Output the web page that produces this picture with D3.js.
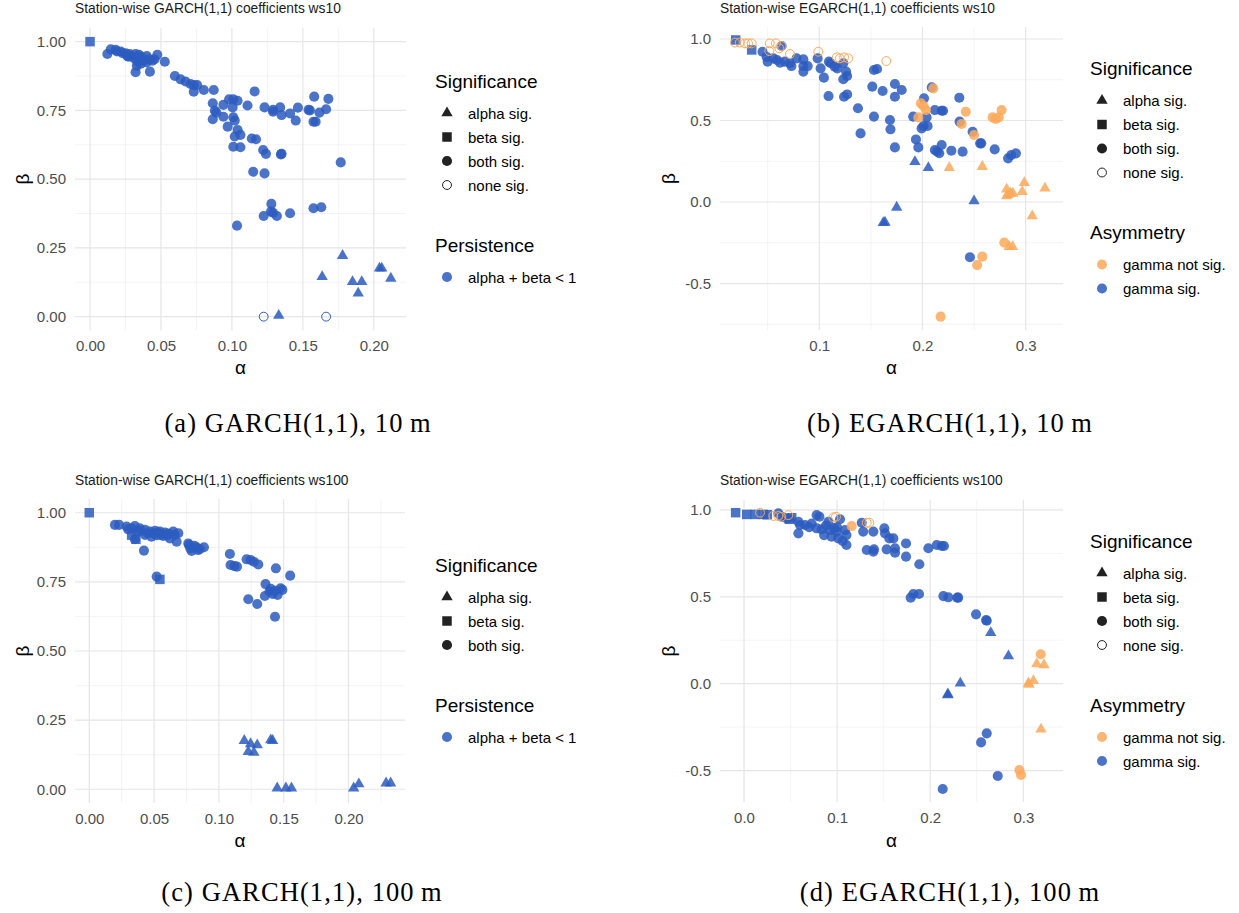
<!DOCTYPE html>
<html><head><meta charset="utf-8">
<script src="https://cdn.jsdelivr.net/npm/d3@7"></script>
<style>body{margin:0;background:#fff;} svg{display:block;}</style>
</head><body>
<svg id="chart" width="1239" height="913"></svg>
<script>
// ---------- DATA ----------
// significance codes: A = alpha sig., B = beta sig., C = both sig., N = none sig.
// gamma codes (EGARCH): S = gamma sig., G = gamma not sig.
const sigLabels = {A:"alpha sig.", B:"beta sig.", C:"both sig.", N:"none sig."};
const sigOrderGarch10 = ["A","B","C","N"];
const sigOrderGarch100 = ["A","B","C"];
const sigOrderEgarch = ["A","B","C","N"];
const persistenceLabels = ["alpha + beta < 1"];
const asymmetryLabels = ["gamma not sig.","gamma sig."];

const ticksGarchX = [0,0.05,0.10,0.15,0.20];
const ticksGarchY = [0,0.25,0.5,0.75,1];
const ticksEgarchX10 = [0.1,0.2,0.3];
const ticksEgarchX100 = [0.0,0.1,0.2,0.3];
const ticksEgarchY = [-0.5,0,0.5,1];

// Panel (a): GARCH(1,1) ws10  [alpha, beta, sig]
const garch10 = [
 [0.000,1.000,"B"],
 [0.0122,0.955,"C"],[0.0146,0.972,"C"],[0.018,0.970,"C"],[0.019,0.964,"C"],[0.0216,0.964,"C"],[0.023,0.958,"C"],
 [0.0251,0.958,"C"],[0.0263,0.948,"C"],[0.027,0.945,"C"],[0.0286,0.948,"C"],[0.028,0.955,"C"],[0.031,0.940,"C"],
 [0.0321,0.955,"C"],[0.0333,0.927,"C"],[0.0345,0.952,"C"],[0.0357,0.940,"C"],[0.0357,0.920,"C"],[0.036,0.945,"C"],
 [0.038,0.931,"C"],[0.0399,0.924,"C"],[0.040,0.948,"C"],[0.0415,0.936,"C"],[0.0439,0.931,"C"],[0.0455,0.936,"C"],
 [0.0474,0.952,"C"],[0.0321,0.889,"C"],[0.0422,0.891,"C"],[0.0527,0.927,"C"],[0.033,0.912,"C"],
 [0.0598,0.875,"C"],[0.0638,0.863,"C"],[0.0673,0.855,"C"],[0.0708,0.846,"C"],[0.0732,0.842,"C"],[0.0755,0.842,"C"],
 [0.0731,0.818,"C"],[0.0802,0.824,"C"],[0.0872,0.824,"C"],
 [0.0865,0.776,"C"],[0.088,0.749,"C"],[0.0865,0.718,"C"],[0.089,0.742,"C"],[0.094,0.770,"C"],[0.094,0.727,"C"],
 [0.097,0.691,"C"],[0.098,0.790,"C"],[0.101,0.790,"C"],[0.104,0.785,"C"],[0.1005,0.761,"C"],[0.101,0.725,"C"],
 [0.102,0.713,"C"],[0.104,0.679,"C"],[0.102,0.655,"C"],[0.106,0.661,"C"],[0.101,0.618,"C"],[0.106,0.616,"C"],
 [0.111,0.768,"C"],[0.116,0.819,"C"],[0.114,0.648,"C"],[0.117,0.645,"C"],[0.122,0.606,"C"],[0.124,0.592,"C"],
 [0.115,0.527,"C"],[0.123,0.521,"C"],[0.123,0.761,"C"],[0.129,0.752,"C"],[0.134,0.761,"C"],[0.129,0.745,"C"],
 [0.135,0.733,"C"],[0.135,0.592,"C"],[0.1345,0.590,"C"],[0.141,0.739,"C"],[0.145,0.713,"C"],[0.1465,0.760,"C"],
 [0.154,0.752,"C"],[0.155,0.750,"C"],[0.158,0.800,"C"],[0.1575,0.709,"C"],[0.159,0.709,"C"],[0.1617,0.742,"C"],
 [0.1664,0.754,"C"],[0.168,0.792,"C"],[0.1767,0.561,"C"],
 [0.1278,0.410,"C"],[0.1275,0.382,"C"],[0.129,0.378,"C"],[0.1224,0.366,"C"],[0.1317,0.366,"C"],[0.141,0.376,"C"],
 [0.1575,0.394,"C"],[0.163,0.398,"C"],[0.1036,0.331,"C"],
 [0.178,0.222,"A"],[0.1636,0.145,"A"],[0.185,0.127,"A"],[0.1915,0.127,"A"],[0.189,0.085,"A"],[0.204,0.176,"A"],
 [0.2056,0.176,"A"],[0.212,0.139,"A"],[0.133,0.004,"A"],
 [0.1224,0.000,"N"],[0.1664,0.000,"N"]
];

// Panel (c): GARCH(1,1) ws100  [alpha, beta, sig]
const garch100 = [
 [0.000,1.000,"B"],
 [0.0198,0.956,"C"],[0.023,0.956,"C"],[0.0288,0.950,"C"],[0.030,0.940,"C"],[0.0327,0.944,"C"],[0.0352,0.952,"C"],
 [0.037,0.930,"C"],[0.039,0.944,"C"],[0.040,0.935,"C"],[0.043,0.938,"C"],[0.043,0.920,"C"],[0.045,0.925,"C"],
 [0.0468,0.932,"C"],[0.048,0.913,"C"],[0.050,0.925,"C"],[0.0507,0.935,"C"],[0.052,0.919,"C"],[0.053,0.928,"C"],
 [0.0545,0.932,"C"],[0.055,0.920,"C"],[0.057,0.916,"C"],[0.0584,0.928,"C"],[0.060,0.918,"C"],[0.061,0.925,"C"],
 [0.0622,0.907,"C"],[0.0648,0.932,"C"],[0.066,0.920,"C"],[0.0674,0.895,"C"],[0.0687,0.926,"C"],[0.0352,0.904,"C"],
 [0.0422,0.863,"C"],[0.052,0.769,"C"],
 [0.0764,0.889,"C"],[0.077,0.883,"C"],[0.078,0.871,"C"],[0.079,0.862,"C"],[0.081,0.880,"C"],[0.0828,0.875,"C"],
 [0.084,0.865,"C"],[0.0854,0.869,"C"],[0.0885,0.875,"C"],
 [0.1085,0.851,"C"],[0.109,0.811,"C"],[0.112,0.807,"C"],[0.114,0.805,"C"],[0.1214,0.8315,"C"],[0.1245,0.829,"C"],
 [0.127,0.823,"C"],[0.1304,0.813,"C"],
 [0.1227,0.687,"C"],[0.1296,0.670,"C"],[0.136,0.742,"C"],[0.1355,0.699,"C"],[0.139,0.715,"C"],[0.140,0.725,"C"],
 [0.1415,0.706,"C"],[0.1435,0.718,"C"],[0.144,0.799,"C"],[0.1433,0.624,"C"],[0.1453,0.703,"C"],[0.1476,0.727,"C"],
 [0.149,0.721,"C"],[0.155,0.7725,"C"],
 [0.0327,0.919,"B"],[0.036,0.904,"B"],[0.0545,0.759,"B"],
 [0.1196,0.176,"A"],[0.1245,0.164,"A"],[0.1227,0.136,"A"],[0.127,0.133,"A"],[0.1296,0.160,"A"],[0.140,0.178,"A"],
 [0.1415,0.176,"A"],[0.145,0.004,"A"],[0.1517,0.004,"A"],[0.156,0.004,"A"],[0.204,0.004,"A"],[0.208,0.019,"A"],
 [0.229,0.022,"A"],[0.2325,0.022,"A"]
];

// Panel (b): EGARCH(1,1) ws10  [alpha, beta, sig, gamma]
const egarch10 = [
 [0.045,0.922,"C","S"],[0.049,0.890,"C","S"],[0.050,0.861,"C","S"],[0.0555,0.881,"C","S"],[0.059,0.871,"C","S"],
 [0.0635,0.957,"C","S"],[0.062,0.855,"C","S"],[0.0667,0.861,"C","S"],[0.0716,0.851,"C","S"],[0.073,0.834,"C","S"],
 [0.078,0.881,"C","S"],[0.0846,0.875,"C","S"],[0.0846,0.834,"C","S"],[0.0846,0.800,"C","S"],[0.0888,0.834,"C","S"],
 [0.0984,0.881,"C","S"],[0.1013,0.820,"C","S"],[0.1045,0.763,"C","S"],[0.1094,0.861,"C","S"],[0.111,0.851,"C","S"],
 [0.115,0.830,"C","S"],[0.1175,0.820,"C","S"],[0.1233,0.851,"C","S"],[0.126,0.800,"C","S"],[0.127,0.773,"C","S"],
 [0.1233,0.753,"C","S"],[0.109,0.650,"C","S"],[0.124,0.646,"C","S"],[0.127,0.660,"C","S"],[0.1375,0.575,"C","S"],
 [0.140,0.421,"C","S"],[0.1514,0.708,"C","S"],[0.153,0.810,"C","S"],[0.156,0.816,"C","S"],[0.1614,0.681,"C","S"],
 [0.153,0.524,"C","S"],[0.1685,0.503,"C","S"],[0.169,0.446,"C","S"],[0.1733,0.335,"C","S"],[0.1733,0.724,"C","S"],
 [0.1733,0.646,"C","S"],[0.1799,0.687,"C","S"],[0.191,0.524,"C","S"],[0.1937,0.384,"C","S"],[0.196,0.335,"C","S"],
 [0.1992,0.452,"C","S"],[0.201,0.466,"C","S"],[0.204,0.519,"C","S"],[0.205,0.466,"C","S"],[0.2015,0.636,"C","S"],
 [0.209,0.703,"C","S"],[0.212,0.319,"C","S"],[0.2163,0.299,"C","S"],[0.2186,0.350,"C","S"],[0.214,0.310,"C","S"],
 [0.212,0.564,"C","S"],[0.2186,0.560,"C","S"],[0.220,0.560,"C","S"],[0.228,0.315,"C","S"],[0.2357,0.640,"C","S"],
 [0.236,0.493,"C","S"],[0.2389,0.309,"C","S"],[0.2486,0.431,"C","S"],[0.2559,0.360,"C","S"],[0.257,0.360,"C","S"],
 [0.270,0.323,"C","S"],[0.283,0.268,"C","S"],[0.286,0.288,"C","S"],[0.2906,0.2986,"C","S"],[0.246,-0.339,"C","S"],
 [0.1985,0.605,"C","G"],[0.201,0.589,"C","G"],[0.2034,0.564,"C","G"],[0.196,0.519,"C","G"],[0.2105,0.697,"C","G"],
 [0.242,0.554,"C","G"],[0.238,0.479,"C","G"],[0.250,0.411,"C","G"],[0.268,0.519,"C","G"],[0.271,0.509,"C","G"],
 [0.274,0.519,"C","G"],[0.2767,0.564,"C","G"],[0.2793,-0.249,"C","G"],[0.253,-0.387,"C","G"],[0.258,-0.335,"C","G"],
 [0.2176,-0.703,"C","G"],
 [0.019,0.994,"B","S"],[0.0345,0.933,"B","S"],
 [0.0183,0.978,"N","G"],[0.023,0.978,"N","G"],[0.028,0.973,"N","G"],[0.031,0.973,"N","G"],[0.0345,0.973,"N","G"],
 [0.052,0.973,"N","G"],[0.058,0.973,"N","G"],[0.0613,0.943,"N","G"],[0.0635,0.957,"N","G"],[0.0516,0.926,"N","G"],
 [0.0716,0.908,"N","G"],[0.099,0.922,"N","G"],[0.117,0.8875,"N","G"],[0.120,0.881,"N","G"],[0.124,0.8875,"N","G"],
 [0.128,0.881,"N","G"],[0.165,0.865,"N","G"],
 [0.1927,0.247,"A","S"],[0.2057,0.210,"A","S"],[0.175,-0.033,"A","S"],[0.1637,-0.125,"A","S"],[0.162,-0.127,"A","S"],
 [0.250,0.006,"A","S"],
 [0.226,0.210,"A","G"],[0.258,0.217,"A","G"],[0.2816,0.078,"A","G"],[0.2854,0.053,"A","G"],[0.2816,0.037,"A","G"],
 [0.2877,0.053,"A","G"],[0.2987,0.118,"A","G"],[0.2967,0.063,"A","G"],[0.3187,0.084,"A","G"],[0.3064,-0.086,"A","G"],
 [0.2841,-0.274,"A","G"],[0.2873,-0.274,"A","G"],[0.283,0.045,"A","G"]
];

// Panel (d): EGARCH(1,1) ws100  [alpha, beta, sig, gamma]
const egarch100 = [
 [0.0369,0.980,"C","S"],[0.0405,0.961,"C","S"],[0.0458,0.951,"C","S"],[0.0584,0.932,"C","S"],[0.0602,0.913,"C","S"],
 [0.0584,0.865,"C","S"],[0.0655,0.913,"C","S"],[0.070,0.900,"C","S"],[0.0727,0.922,"C","S"],[0.078,0.970,"C","S"],
 [0.081,0.961,"C","S"],[0.078,0.894,"C","S"],[0.0834,0.888,"C","S"],[0.086,0.855,"C","S"],[0.088,0.910,"C","S"],
 [0.0906,0.932,"C","S"],[0.0924,0.884,"C","S"],[0.094,0.846,"C","S"],[0.097,0.895,"C","S"],[0.0995,0.875,"C","S"],
 [0.100,0.900,"C","S"],[0.1013,0.836,"C","S"],[0.1031,0.946,"C","S"],[0.106,0.821,"C","S"],[0.1085,0.884,"C","S"],
 [0.110,0.855,"C","S"],[0.110,0.798,"C","S"],[0.1264,0.926,"C","S"],[0.128,0.875,"C","S"],[0.1318,0.769,"C","S"],
 [0.1389,0.875,"C","S"],[0.1396,0.773,"C","S"],[0.1389,0.760,"C","S"],[0.1507,0.894,"C","S"],[0.1514,0.865,"C","S"],
 [0.1532,0.773,"C","S"],[0.1561,0.836,"C","S"],[0.1604,0.836,"C","S"],[0.1622,0.779,"C","S"],[0.1622,0.754,"C","S"],
 [0.174,0.807,"C","S"],[0.174,0.731,"C","S"],[0.1883,0.687,"C","S"],[0.198,0.779,"C","S"],[0.207,0.798,"C","S"],
 [0.2123,0.792,"C","S"],[0.2148,0.792,"C","S"],[0.179,0.495,"C","S"],[0.1819,0.516,"C","S"],[0.188,0.516,"C","S"],
 [0.2141,0.504,"C","S"],[0.2195,0.497,"C","S"],[0.2291,0.495,"C","S"],[0.2300,0.495,"C","S"],[0.2492,0.399,"C","S"],
 [0.2607,0.362,"C","S"],[0.260,0.366,"C","S"],[0.2546,-0.338,"C","S"],[0.2607,-0.286,"C","S"],[0.2725,-0.531,"C","S"],
 [0.2134,-0.606,"C","S"],
 [0.1156,0.907,"C","G"],[0.3187,0.169,"C","G"],[0.2957,-0.497,"C","G"],[0.2975,-0.525,"C","G"],
 [-0.009,0.984,"B","S"],[0.0029,0.974,"B","S"],[0.0118,0.974,"B","S"],[0.0208,0.974,"B","S"],[0.025,0.972,"B","S"],
 [0.0512,0.955,"B","S"],[0.0487,0.946,"B","S"],
 [0.0172,0.984,"N","G"],[0.0315,0.965,"N","G"],[0.0369,0.965,"N","G"],[0.040,0.960,"N","G"],[0.0476,0.970,"N","G"],
 [0.096,0.957,"N","G"],[0.0988,0.961,"N","G"],[0.1318,0.926,"N","G"],[0.1346,0.926,"N","G"],
 [0.265,0.293,"A","S"],[0.284,0.159,"A","S"],[0.2188,-0.065,"A","S"],[0.2323,0.002,"A","S"],[0.219,-0.060,"A","S"],
 [0.3144,0.113,"A","G"],[0.3222,0.108,"A","G"],[0.3054,0.002,"A","G"],[0.3108,0.017,"A","G"],[0.306,-0.004,"A","G"],
 [0.319,-0.262,"A","G"]
];

// ---------- DRAWING ----------
const BLUE = "#2c5cbf", ORANGE = "#fca95a";
const FONT = "'Liberation Sans', Arial, Helvetica, sans-serif";
const SERIF = "'Liberation Serif', 'DejaVu Serif', serif";
const SHAPES = {
  A:{type:d3.symbolTriangle, size:56},
  B:{type:d3.symbolSquare, size:90},
  C:{type:d3.symbolCircle, size:80},
  N:{type:d3.symbolCircle, size:62}
};
const svg = d3.select("#chart");
const fmt2 = v => v.toFixed(2);
const fmt1 = v => v.toFixed(1);

function minorOf(ticks, domain){
  const out = [];
  const step = ticks[1]-ticks[0];
  for (let v = ticks[0]-step/2; v <= domain[1]; v += step){
    if (v >= domain[0] && !ticks.some(t => Math.abs(t-v) < 1e-9)) out.push(+v.toFixed(6));
  }
  return out;
}

function drawPanel(cfg){
  const g = svg.append("g");
  const x = d3.scaleLinear().domain(cfg.xDomain).range([cfg.x0, cfg.x1]);
  const y = d3.scaleLinear().domain(cfg.yDomain).range([cfg.y1, cfg.y0]);
  const xMinor = minorOf(cfg.xTicks, cfg.xDomain);
  const yMinor = minorOf(cfg.yTicks, cfg.yDomain);
  const grid = g.append("g");
  grid.selectAll(".vmin").data(xMinor).join("line")
    .attr("x1",d=>x(d)).attr("x2",d=>x(d)).attr("y1",cfg.y0).attr("y2",cfg.y1)
    .attr("stroke","#ededed").attr("stroke-width",0.6);
  grid.selectAll(".hmin").data(yMinor).join("line")
    .attr("y1",d=>y(d)).attr("y2",d=>y(d)).attr("x1",cfg.x0).attr("x2",cfg.x1)
    .attr("stroke","#ededed").attr("stroke-width",0.6);
  grid.selectAll(".vmaj").data(cfg.xTicks).join("line")
    .attr("x1",d=>x(d)).attr("x2",d=>x(d)).attr("y1",cfg.y0).attr("y2",cfg.y1)
    .attr("stroke","#e6e6e6").attr("stroke-width",1.2);
  grid.selectAll(".hmaj").data(cfg.yTicks).join("line")
    .attr("y1",d=>y(d)).attr("y2",d=>y(d)).attr("x1",cfg.x0).attr("x2",cfg.x1)
    .attr("stroke","#e6e6e6").attr("stroke-width",1.2);

  const xa = g.append("g").attr("transform",`translate(0,${cfg.y1})`)
    .call(d3.axisBottom(x).tickValues(cfg.xTicks).tickFormat(cfg.fmt).tickSize(0).tickPadding(10));
  const ya = g.append("g").attr("transform",`translate(${cfg.x0},0)`)
    .call(d3.axisLeft(y).tickValues(cfg.yTicks).tickFormat(cfg.fmt).tickSize(0).tickPadding(9));
  [xa,ya].forEach(a => {
    a.select(".domain").remove();
    a.attr("font-size",15).attr("font-family",FONT);
    a.selectAll("text").attr("fill","#4d4d4d");
  });

  const sym = d3.symbol();
  g.append("g").selectAll("path").data(cfg.data).join("path")
    .attr("transform", d => `translate(${x(d[0])},${y(d[1])})`)
    .attr("d", d => sym.type(SHAPES[d[2]].type).size(SHAPES[d[2]].size)())
    .attr("fill", d => d[2]==="N" ? "none" : cfg.color(d))
    .attr("fill-opacity", 0.85)
    .attr("stroke", d => d[2]==="N" ? cfg.color(d) : "none")
    .attr("stroke-width", 1);

  // title
  svg.append("text").attr("x",cfg.x0).attr("y",cfg.titleY).attr("font-family",FONT)
    .attr("font-size",13.8).attr("fill","#1a1a1a").text(cfg.title);
  // axis titles
  svg.append("text").attr("x",(cfg.x0+cfg.x1)/2).attr("y",cfg.alphaY).attr("text-anchor","middle")
    .attr("font-family",FONT).attr("font-size",19).attr("fill","#000").text("α");
  svg.append("text").attr("transform",`translate(${cfg.betaX},${(cfg.y0+cfg.y1)/2}) rotate(-90)`)
    .attr("text-anchor","middle").attr("font-family",FONT).attr("font-size",19).attr("fill","#000").text("β");
  // caption
  svg.append("text").attr("x",cfg.capX).attr("y",cfg.capY).attr("text-anchor","middle")
    .attr("font-family",SERIF).attr("font-size",26.5).attr("letter-spacing",1.1).attr("fill","#000").text(cfg.caption);

  // legend
  const L = cfg.legend;
  const lg = svg.append("g");
  lg.append("text").attr("x",L.x).attr("y",L.y).attr("dominant-baseline","central")
    .attr("font-family",FONT).attr("font-size",19).text("Significance");
  L.sig.forEach((code,i) => {
    const cy = L.y + 32 + i*24;
    lg.append("path").attr("transform",`translate(${L.x+12},${cy})`)
      .attr("d", sym.type(SHAPES[code].type).size(SHAPES[code].size)())
      .attr("fill", code==="N" ? "#fff" : "#222").attr("stroke", code==="N" ? "#222" : "none").attr("stroke-width",1);
    lg.append("text").attr("x",L.x+33).attr("y",cy).attr("dominant-baseline","central")
      .attr("font-family",FONT).attr("font-size",15).text(sigLabels[code]);
  });
  const t2 = L.y + 32 + (L.sig.length-1)*24 + 60;
  lg.append("text").attr("x",L.x).attr("y",t2).attr("dominant-baseline","central")
    .attr("font-family",FONT).attr("font-size",19).text(L.title2);
  L.items2.forEach((lab,i) => {
    const cy = t2 + 32 + i*24;
    lg.append("path").attr("transform",`translate(${L.x+12},${cy})`)
      .attr("d", sym.type(d3.symbolCircle).size(80)())
      .attr("fill", L.colors2[i]).attr("fill-opacity",0.85);
    lg.append("text").attr("x",L.x+33).attr("y",cy).attr("dominant-baseline","central")
      .attr("font-family",FONT).attr("font-size",15).text(lab);
  });
}

const blueOnly = d => BLUE;
const byGamma = d => d[3]==="S" ? BLUE : ORANGE;

drawPanel({data:garch10, color:blueOnly, x0:75, x1:406, y0:27.9, y1:330.4,
  xDomain:[-0.0106,0.2227], yDomain:[-0.05,1.05], xTicks:ticksGarchX, yTicks:ticksGarchY, fmt:fmt2,
  title:"Station-wise GARCH(1,1) coefficients ws10", titleY:13, alphaY:374, betaX:29,
  caption:"(a) GARCH(1,1), 10\u2009m", capX:298, capY:432,
  legend:{x:435, y:81, sig:sigOrderGarch10, title2:"Persistence", items2:persistenceLabels, colors2:[BLUE]}});

drawPanel({data:egarch10, color:byGamma, x0:720, x1:1063, y0:27, y1:330,
  xDomain:[0.0038,0.3362], yDomain:[-0.785,1.0736], xTicks:ticksEgarchX10, yTicks:ticksEgarchY, fmt:fmt1,
  title:"Station-wise EGARCH(1,1) coefficients ws10", titleY:13, alphaY:374, betaX:675,
  caption:"(b) EGARCH(1,1), 10\u2009m", capX:950, capY:432,
  legend:{x:1090, y:68.5, sig:sigOrderEgarch, title2:"Asymmetry", items2:asymmetryLabels, colors2:[ORANGE,BLUE]}});

drawPanel({data:garch100, color:blueOnly, x0:75, x1:405, y0:498.9, y1:803.1,
  xDomain:[-0.011,0.2436], yDomain:[-0.05,1.05], xTicks:ticksGarchX, yTicks:ticksGarchY, fmt:fmt2,
  title:"Station-wise GARCH(1,1) coefficients ws100", titleY:485, alphaY:847, betaX:29,
  caption:"(c) GARCH(1,1), 100\u2009m", capX:302, capY:901,
  legend:{x:435, y:565, sig:sigOrderGarch100, title2:"Persistence", items2:persistenceLabels, colors2:[BLUE]}});

drawPanel({data:egarch100, color:byGamma, x0:720, x1:1063, y0:500, y1:802,
  xDomain:[-0.0258,0.3426], yDomain:[-0.681,1.057], xTicks:ticksEgarchX100, yTicks:ticksEgarchY, fmt:fmt1,
  title:"Station-wise EGARCH(1,1) coefficients ws100", titleY:485, alphaY:847, betaX:675,
  caption:"(d) EGARCH(1,1), 100\u2009m", capX:950, capY:901,
  legend:{x:1090, y:541, sig:sigOrderEgarch, title2:"Asymmetry", items2:asymmetryLabels, colors2:[ORANGE,BLUE]}});
</script>
</body></html>
